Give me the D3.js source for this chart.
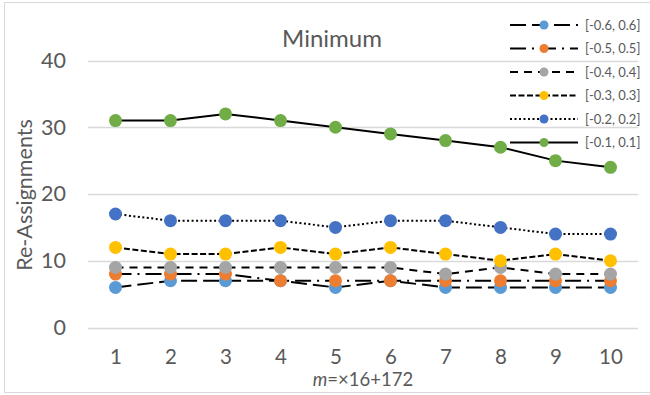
<!DOCTYPE html>
<html><head><meta charset="utf-8">
<script src="https://cdn.jsdelivr.net/npm/d3@7"></script>
<style>body{margin:0;background:#fff}svg{display:block}text{font-family:Lato,"Open Sans",sans-serif}</style>
</head><body>
<svg id="c" width="650" height="395"></svg>
<script>
const categories = [1,2,3,4,5,6,7,8,9,10];
const seriesNames = ["[-0.6, 0.6]","[-0.5, 0.5]","[-0.4, 0.4]","[-0.3, 0.3]","[-0.2, 0.2]","[-0.1, 0.1]"];
const s06 = [6,7,7,7,6,7,6,6,6,6];
const s05 = [8,8,8,7,7,7,7,7,7,7];
const s04 = [9,9,9,9,9,9,8,9,8,8];
const s03 = [12,11,11,12,11,12,11,10,11,10];
const s02 = [17,16,16,16,15,16,16,15,14,14];
const s01 = [31,31,32,31,30,29,28,27,25,24];
const yTicks = [0,10,20,30,40];
const colors = ["#5b9bd5","#ed7d31","#a5a5a5","#ffc000","#4472c4","#70ad47"];
const dashes = ["16,6","16,6,2,6","8,6","6,2.5","2,2.5",null];
const allSeries = [s06,s05,s04,s03,s02,s01];

const svg = d3.select("#c");
// chart border
svg.append("rect").attr("x",4.5).attr("y",2.5).attr("width",648).attr("height",390)
  .attr("fill","none").attr("stroke","#d9d9d9").attr("stroke-width",1);

const x = d3.scalePoint().domain(categories).range([88,638]).padding(0.5);
const y = d3.scaleLinear().domain([0,40]).range([327.5,60.5]);

// gridlines
svg.append("g").selectAll("line").data(yTicks).join("line")
  .attr("x1",88).attr("x2",638).attr("y1",d=>Math.round(y(d))+0.5).attr("y2",d=>Math.round(y(d))+0.5)
  .attr("stroke","#d9d9d9").attr("stroke-width",1.3);

// y axis labels
const yAxis = d3.axisLeft(y).tickValues(yTicks).tickSize(0).tickPadding(22);
const gy = svg.append("g").attr("transform","translate(88,0)").call(yAxis);
gy.select(".domain").remove();
gy.selectAll("text").attr("font-size","21.5px").attr("fill","#595959").attr("font-family","Lato");

// x axis labels
const xAxis = d3.axisBottom(x).tickSize(0).tickPadding(21.5);
const gx = svg.append("g").attr("transform","translate(0,327.5)").call(xAxis);
gx.select(".domain").remove();
gx.selectAll("text").attr("font-size","20.5px").attr("fill","#595959").attr("font-family","Lato");

// title
svg.append("text").attr("x",332).attr("y",46.5).attr("text-anchor","middle")
  .attr("font-size","24px").attr("fill","#595959").text("Minimum");

// axis titles
svg.append("text").attr("transform","translate(32,195) rotate(-90)").attr("text-anchor","middle")
  .attr("font-size","21.5px").attr("fill","#595959").text("Re-Assignments");
const xt = svg.append("text").attr("x",363).attr("y",386).attr("text-anchor","middle")
  .attr("font-size","18.5px").attr("fill","#595959");
xt.append("tspan").attr("font-style","italic").text("m");
xt.append("tspan").text("=×16+172");

// series
const line = d3.line().x((d,i)=>x(categories[i])).y(d=>y(d));
allSeries.forEach((vals,k)=>{
  const g = svg.append("g");
  g.append("path").datum(vals).attr("d",line).attr("fill","none")
    .attr("stroke","#000").attr("stroke-width",2)
    .attr("stroke-dasharray",dashes[k]);
  g.selectAll("circle").data(vals).join("circle")
    .attr("cx",(d,i)=>x(categories[i])).attr("cy",d=>y(d)).attr("r",6.5)
    .attr("fill",colors[k]);
});

// legend
const lg = svg.append("g");
seriesNames.forEach((name,k)=>{
  const yy = 25 + k*23.5;
  lg.append("line").attr("x1",510).attr("x2",578).attr("y1",yy).attr("y2",yy)
    .attr("stroke","#000").attr("stroke-width",2).attr("stroke-dasharray",dashes[k]);
  lg.append("circle").attr("cx",544).attr("cy",yy).attr("r",4.5).attr("fill",colors[k]);
  lg.append("text").attr("x",585).attr("y",yy).attr("dy","0.35em")
    .attr("font-size","13px").attr("fill","#595959").text(name);
});
</script>
</body></html>
